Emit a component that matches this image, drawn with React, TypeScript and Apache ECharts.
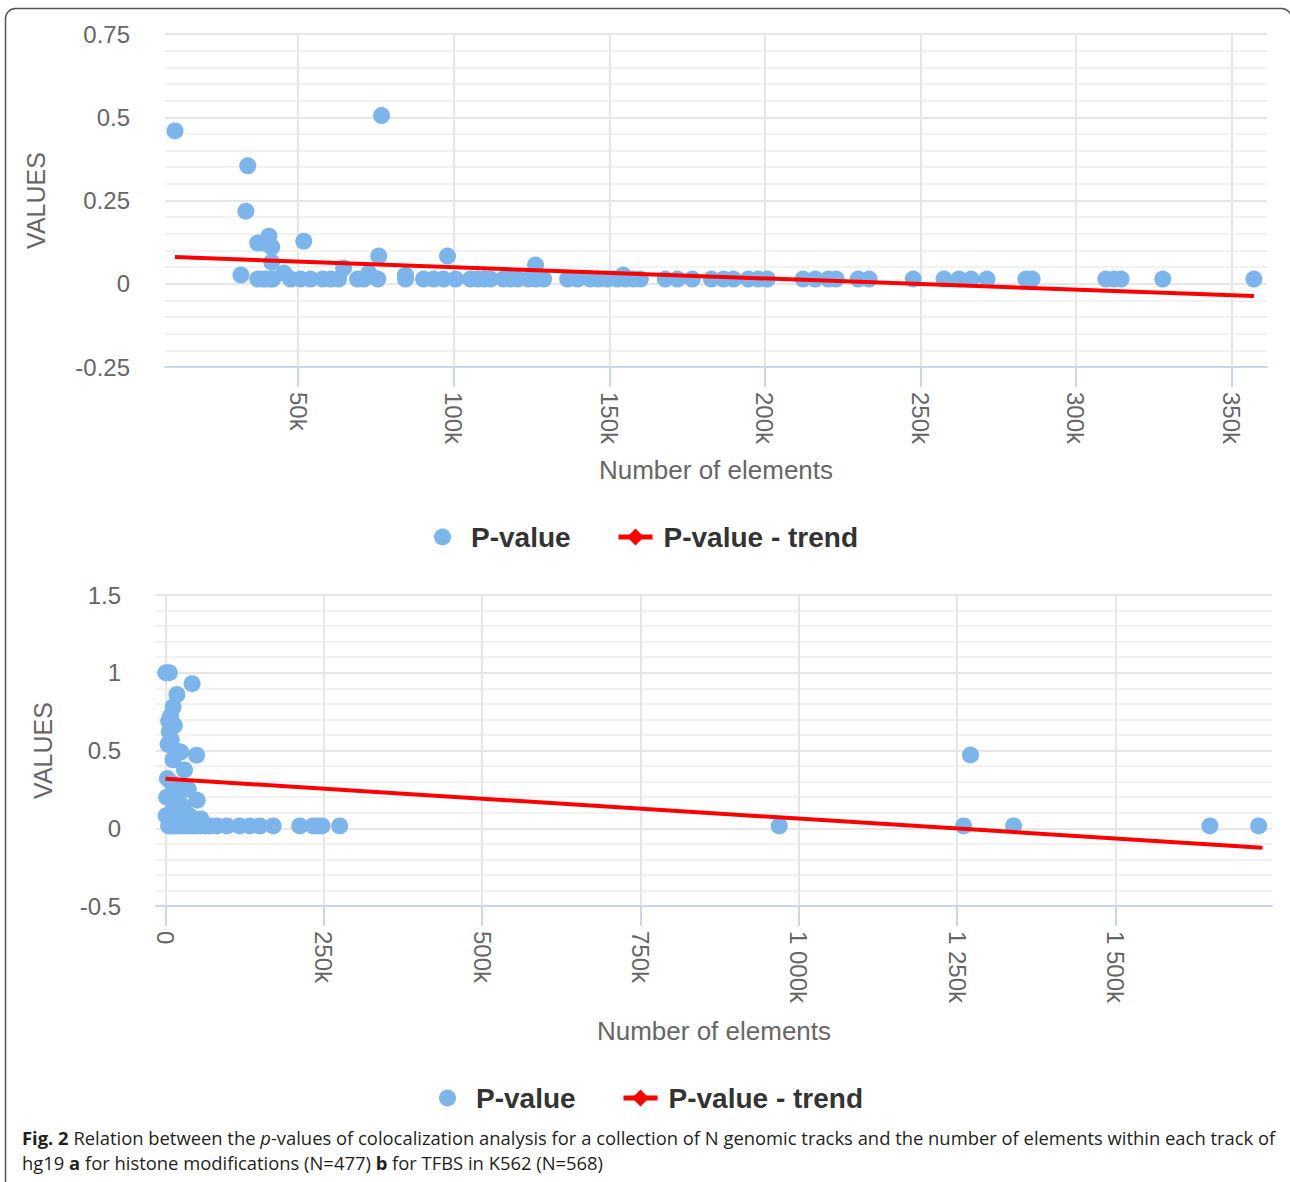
import React, { useEffect, useRef } from "react";
import * as echarts from "echarts";

// ---------- Data ----------
// Panel a: histone modifications
const topX = [
  10400, 33800, 33200, 31600, 37000, 39000, 40600, 41500, 41500, 51800, 45400, 64600, 72700, 75900, 76800, 98000,
  126300, 84500, 154500,
  37000, 38600, 39600, 41200, 41800, 47600, 50800, 54000, 57900, 60500, 63000, 69100, 71100, 75600, 84500, 90300,
  93500, 96700, 100600, 105400, 107700, 109900, 111800, 116000, 118300, 120500, 124000, 126300, 128900, 136600,
  139800, 143900, 146500, 149400, 152600, 155200, 157800, 160000, 168000, 171900, 176700, 182800, 186700, 189900,
  194700, 197900, 200800, 212300, 216200, 220400, 222900, 230000, 233500, 247700, 257600, 262400, 266300, 271400,
  283900, 285900, 309600, 312200, 314500, 327900, 357200,
];
const topY = [
  0.459, 0.354, 0.218, 0.026, 0.122, 0.122, 0.143, 0.11, 0.065, 0.128, 0.032, 0.047, 0.032, 0.083, 0.505, 0.083,
  0.056, 0.026, 0.026,
  0.014, 0.014, 0.014, 0.014, 0.014, 0.014, 0.014, 0.014, 0.014, 0.014, 0.014, 0.014, 0.014, 0.014, 0.014, 0.014,
  0.014, 0.014, 0.014, 0.014, 0.014, 0.014, 0.014, 0.014, 0.014, 0.014, 0.014, 0.014, 0.014, 0.014,
  0.014, 0.014, 0.014, 0.014, 0.014, 0.014, 0.014, 0.014, 0.014, 0.014, 0.014, 0.014, 0.014, 0.014,
  0.014, 0.014, 0.014, 0.014, 0.014, 0.014, 0.014, 0.014, 0.014, 0.014, 0.014, 0.014, 0.014, 0.014,
  0.014, 0.014, 0.014, 0.014, 0.014, 0.014, 0.014,
];
const topTrendX = [10400, 357200];
const topTrendY = [0.08, -0.037];

// Panel b: TFBS in K562
const bottomX = [
  500, 6000, 42000, 18000, 12000, 8000, 5000, 14000, 6000, 9000, 4000, 16000, 24000, 49000, 12000, 30000, 3000,
  10000, 22000, 14000, 36000, 2000, 8000, 20000, 50000, 28000, 12000, 1000, 18000, 38000, 56000, 44000, 30000,
  5000, 10000, 15000, 20000, 25000, 30000, 36000, 42000, 48000, 55000, 63000, 70000, 81000, 97000, 117000, 133000,
  149000, 170000, 212000, 233000, 240000, 247000, 275000,
  969000, 1260000, 1271000, 1339000, 1649000, 1726000,
];
const bottomY = [
  1.0, 1.0, 0.93, 0.86, 0.78, 0.72, 0.69, 0.66, 0.62, 0.57, 0.54, 0.5, 0.49, 0.47, 0.44, 0.375, 0.32,
  0.29, 0.27, 0.25, 0.25, 0.2, 0.19, 0.17, 0.18, 0.14, 0.12, 0.08, 0.1, 0.08, 0.06, 0.04, 0.05,
  0.015, 0.015, 0.015, 0.015, 0.015, 0.015, 0.015, 0.015, 0.015, 0.015, 0.015, 0.015, 0.015, 0.015, 0.015, 0.015,
  0.015, 0.015, 0.015, 0.015, 0.015, 0.015, 0.015,
  0.015, 0.015, 0.471, 0.015, 0.015, 0.015,
];
const bottomTrendX = [0, 1732000];
const bottomTrendY = [0.318, -0.125];

// Tick labels
const topXTicks = [50000, 100000, 150000, 200000, 250000, 300000, 350000];
const bottomXTicks = [0, 250000, 500000, 750000, 1000000, 1250000, 1500000];

const SERIES_NAME = "P-value";
const TREND_NAME = "P-value - trend";

const FONT = "Liberation Sans, Arial, Helvetica, sans-serif";
const CAPTION_FONT = "Open Sans, Noto Sans, sans-serif";
const CAPTION_SIZE = 18.4;

function zip(xs: number[], ys: number[]) {
  return xs.map((x, i) => [x, ys[i]]);
}

function kFormat(v: number) {
  if (v === 0) return "0";
  const k = Math.round(v / 1000);
  if (k >= 1000) {
    const th = Math.floor(k / 1000);
    const rest = String(k % 1000).padStart(3, "0");
    return th + " " + rest + "k";
  }
  return k + "k";
}

function xAxisCfg(gridIndex: number, min: number, max: number, step: number, ticks: number[], nameGap: number) {
  return {
    type: "value",
    gridIndex,
    min,
    max,
    minInterval: step,
    maxInterval: step,
    name: "Number of elements",
    nameLocation: "middle",
    nameGap,
    nameTextStyle: { color: "#666666", fontSize: 26, fontFamily: FONT },
    axisLine: { show: true, onZero: false, lineStyle: { color: "#ccd6eb", width: 2 } },
    axisTick: { show: true, length: 20, customValues: ticks, lineStyle: { color: "#ccd6eb", width: 2 } },
    axisLabel: {
      show: true,
      customValues: ticks,
      rotate: -90,
      margin: 25,
      color: "#666666",
      fontSize: 24,
      fontFamily: FONT,
      formatter: (v: number) => kFormat(v),
    },
    splitLine: { show: true, lineStyle: { color: "#e6e6e6", width: 2 } },
  };
}

function yAxisCfg(gridIndex: number, min: number, max: number, interval: number, nameGap: number) {
  return {
    type: "value",
    gridIndex,
    min,
    max,
    interval,
    name: "VALUES",
    nameLocation: "middle",
    nameGap,
    nameTextStyle: { color: "#666666", fontSize: 25, fontFamily: FONT },
    axisLine: { show: false },
    axisTick: { show: false },
    axisLabel: { color: "#666666", fontSize: 24, fontFamily: FONT, margin: 35 },
    splitLine: { show: true, lineStyle: { color: "#e6e6e6", width: 2 } },
    minorTick: { show: false, splitNumber: 5 },
    minorSplitLine: { show: true, lineStyle: { color: "#f2f2f2", width: 2 } },
  };
}

function legendPair(circleLeft: number, lineLeft: number, top: number) {
  const text = { fontSize: 28, fontWeight: "bold", color: "#333333", fontFamily: FONT };
  return [
    {
      data: [SERIES_NAME],
      left: circleLeft,
      top,
      itemWidth: 51,
      itemHeight: 17,
      selectedMode: false,
      textStyle: { ...text, padding: [0, 0, 0, -2] },
    },
    {
      data: [TREND_NAME],
      left: lineLeft,
      top,
      itemWidth: 34,
      itemHeight: 21,
      selectedMode: false,
      lineStyle: { width: 5 },
      textStyle: { ...text, padding: [0, 0, 0, 6] },
    },
  ];
}

export default function App() {
  const ref = useRef<HTMLDivElement>(null);

  useEffect(() => {
    if (!ref.current) return;
    const chart = echarts.init(ref.current, undefined, { renderer: "svg" });

    const scatterStyle = {
      type: "scatter",
      name: SERIES_NAME,
      symbol: "circle",
      symbolSize: 17,
      itemStyle: { color: "#7cb5ec", opacity: 1 },
      z: 2,
    };
    const trendStyle = {
      type: "line",
      name: TREND_NAME,
      symbol: "diamond",
      showSymbol: false,
      symbolSize: 14,
      itemStyle: { color: "#ff0000" },
      lineStyle: { color: "#ff0000", width: 4 },
      z: 3,
    };

    const option = {
      animation: false,
      backgroundColor: "#ffffff",
      textStyle: { fontFamily: FONT },
      grid: [
        { left: 165, top: 34, width: 1102, height: 333 },
        { left: 156, top: 595, width: 1116, height: 311 },
      ],
      xAxis: [
        xAxisCfg(0, 7200, 361400, 50000, topXTicks, 90),
        xAxisCfg(1, -15000, 1747000, 250000, bottomXTicks, 112),
      ],
      yAxis: [yAxisCfg(0, -0.25, 0.75, 0.25, 117), yAxisCfg(1, -0.5, 1.5, 0.5, 101)],
      legend: [...legendPair(429, 611, 518), ...legendPair(434, 616, 1079)],
      series: [
        { ...scatterStyle, xAxisIndex: 0, yAxisIndex: 0, data: zip(topX, topY) },
        { ...trendStyle, xAxisIndex: 0, yAxisIndex: 0, data: zip(topTrendX, topTrendY) },
        { ...scatterStyle, xAxisIndex: 1, yAxisIndex: 1, data: zip(bottomX, bottomY) },
        { ...trendStyle, xAxisIndex: 1, yAxisIndex: 1, data: zip(bottomTrendX, bottomTrendY) },
      ],
      graphic: [
        {
          type: "rect",
          z: -10,
          silent: true,
          shape: { x: 5.5, y: 8.5, width: 1286, height: 1200, r: 10 },
          style: { fill: "none", stroke: "#555555", lineWidth: 1.5 },
        },
        {
          type: "text",
          x: 22,
          y: 1137,
          silent: true,
          style: {
            text:
              "{b|Fig. 2} Relation between the {i|p}-values of colocalization analysis for a collection of N genomic tracks and the number of elements within each track of",
            fontFamily: CAPTION_FONT,
            fontSize: CAPTION_SIZE,
            verticalAlign: "middle",
            fill: "#231f20",
            rich: {
              b: { fontWeight: "bold", fontFamily: CAPTION_FONT, fontSize: CAPTION_SIZE, color: "#231f20" },
              i: { fontStyle: "italic", fontFamily: CAPTION_FONT, fontSize: CAPTION_SIZE, color: "#231f20" },
            },
          },
        },
        {
          type: "text",
          x: 22,
          y: 1162,
          silent: true,
          style: {
            text: "hg19 {b|a} for histone modifications (N=477) {b|b} for TFBS in K562 (N=568)",
            fontFamily: CAPTION_FONT,
            fontSize: CAPTION_SIZE,
            verticalAlign: "middle",
            fill: "#231f20",
            rich: {
              b: { fontWeight: "bold", fontFamily: CAPTION_FONT, fontSize: CAPTION_SIZE, color: "#231f20" },
            },
          },
        },
      ],
    };

    chart.setOption(option as any);
    return () => chart.dispose();
  }, []);

  return (
    <div
      ref={ref}
      style={{ position: "absolute", left: 0, top: 0, width: 1290, height: 1182, background: "#fff" }}
    />
  );
}
